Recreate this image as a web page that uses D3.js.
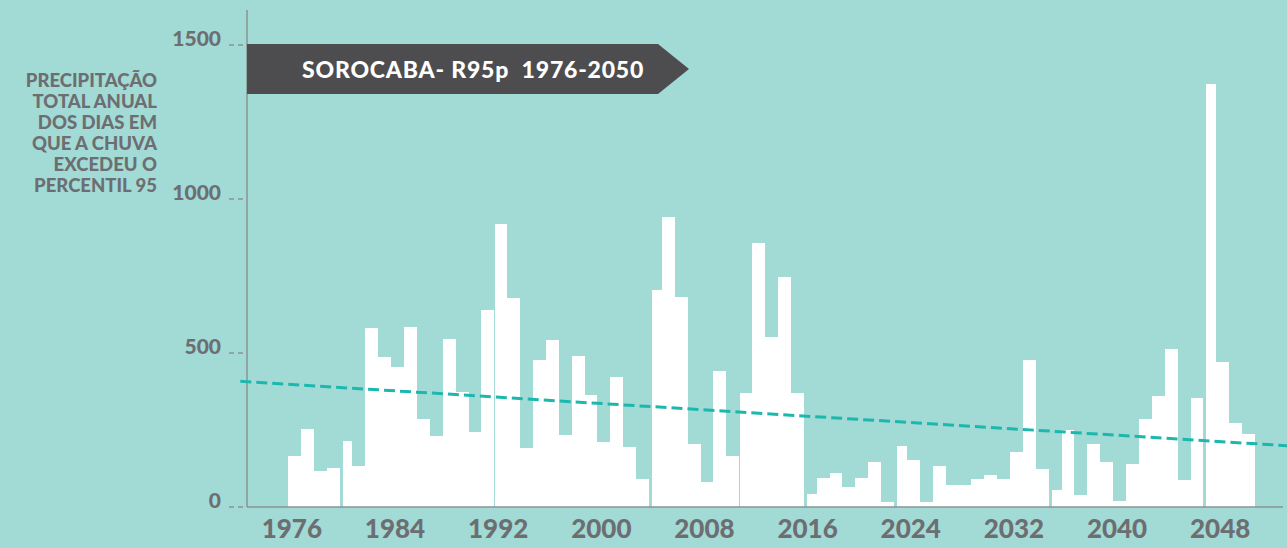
<!DOCTYPE html>
<html>
<head>
<meta charset="utf-8">
<script src="https://cdn.jsdelivr.net/npm/d3@7"></script>
<style>
  html, body { margin: 0; padding: 0; background: #a2dad5; }
  svg { display: block; font-family: Lato, "Open Sans", sans-serif; }
</style>
</head>
<body>
<svg id="chart" width="1287" height="548"></svg>
<script>
// ---- data ----
const years = d3.range(1976, 2051);
const values = [
  165, 253, 118, 126, 214, 134, 580, 487, 455, 585,   // 1976-1985
  285, 230, 546, 372, 244, 641, 920, 680, 192, 477,   // 1986-1995
  541, 234, 489, 364, 212, 421, 194, 91, 704, 940,    // 1996-2005
  683, 205, 80, 440, 164, 371, 857, 551, 748, 371,    // 2006-2015
  42, 94, 110, 65, 94, 147, 15, 199, 153, 15,         // 2016-2025
  134, 73, 73, 90, 105, 90, 177, 476, 123, 56,        // 2026-2035
  251, 39, 205, 147, 19, 141, 287, 362, 514, 89,      // 2036-2045
  355, 1372, 471, 272, 237                            // 2046-2050
];
const xTickYears = [1976, 1984, 1992, 2000, 2008, 2016, 2024, 2032, 2040, 2048];
const yTicks = [0, 500, 1000, 1500];
const trendYears = [1972.3, 2053.5];
const trendValues = [408, 199];
const segmentStartYears = [1980, 1992, 2004, 2011, 2016, 2023, 2035, 2047];
const titleText = "SOROCABA- R95p\u00a0 1976-2050";
const yTitleLines = ["PRECIPITAÇÃO", "TOTAL ANUAL", "DOS DIAS EM", "QUE A CHUVA", "EXCEDEU O", "PERCENTIL 95"];

// ---- styles ----
const bg = "#a2dad5", textGray = "#6d6e71", axisGray = "#8a9593", teal = "#1cb8ae", banner = "#4d4d4f";

const svg = d3.select("#chart");
svg.append("rect").attr("width", 1287).attr("height", 548).attr("fill", bg);

const x = d3.scaleLinear().domain([1976, 2051]).range([288, 1255]);
const y = d3.scaleLinear().domain([0, 1500]).range([507, 45]);
const axisX = 247;
const gap = d => segmentStartYears.includes(d) ? (d === 1992 || d === 2011 ? 1 : 3) : 0;

// bars
svg.append("g").attr("shape-rendering", "crispEdges")
  .selectAll("rect").data(years).join("rect")
  .attr("x", d => Math.round(x(d)) + gap(d))
  .attr("width", d => Math.round(x(d + 1)) - Math.round(x(d)) - gap(d))
  .attr("y", (d, i) => Math.round(y(values[i])))
  .attr("height", (d, i) => Math.round(y(0)) - Math.round(y(values[i])))
  .attr("fill", "#ffffff");

// y axis line
svg.append("line").attr("x1", axisX).attr("x2", axisX).attr("y1", 10).attr("y2", y(0))
  .attr("stroke", axisGray).attr("stroke-width", 1.5);
// baseline
svg.append("line").attr("x1", axisX).attr("x2", 1283).attr("y1", y(0)).attr("y2", y(0))
  .attr("stroke", axisGray).attr("stroke-width", 1.5);

// y ticks (dashed) and labels
const yt = svg.append("g");
yt.selectAll("line").data(yTicks).join("line")
  .attr("x1", 229).attr("x2", axisX).attr("y1", d => y(d)).attr("y2", d => y(d))
  .attr("stroke", axisGray).attr("stroke-width", 1.5).attr("stroke-dasharray", "5,4");
yt.selectAll("text").data(yTicks).join("text")
  .attr("x", 221).attr("y", d => y(d) + 1)
  .attr("text-anchor", "end")
  .attr("fill", textGray).attr("font-weight", 900).attr("font-size", 21)
  .text(d => d);

// x tick labels
svg.append("g").selectAll("text").data(xTickYears).join("text")
  .attr("x", d => x(d + 0.3)).attr("y", 538)
  .attr("text-anchor", "middle")
  .attr("fill", textGray).attr("font-weight", 900).attr("font-size", 26)
  .text(d => d);

// trend line
svg.append("path")
  .datum(trendYears.map((yr, i) => [yr, trendValues[i]]))
  .attr("d", d3.line().x(d => x(d[0])).y(d => y(d[1])))
  .attr("fill", "none").attr("stroke", teal).attr("stroke-width", 3)
  .attr("stroke-dasharray", "11,5");

// y title
const yTitle = svg.append("text")
  .attr("text-anchor", "end").attr("fill", textGray)
  .attr("font-weight", 900).attr("font-size", 18.5);
yTitle.selectAll("tspan").data(yTitleLines).join("tspan")
  .attr("x", 157).attr("y", (d, i) => 87 + i * 20.9)
  .text(d => d);

// title banner (arrow)
const bx0 = axisX, bx1 = 658, bx2 = 689, by0 = 44, by1 = 94;
svg.append("path")
  .attr("d", `M${bx0},${by0}L${bx1},${by0}L${bx2},${(by0 + by1) / 2}L${bx1},${by1}L${bx0},${by1}Z`)
  .attr("fill", banner);
svg.append("text")
  .attr("x", 302).attr("y", 78)
  .attr("fill", "#ffffff").attr("font-weight", 900).attr("font-size", 23)
  .attr("letter-spacing", 0.8)
  .text(titleText);
</script>
</body>
</html>
